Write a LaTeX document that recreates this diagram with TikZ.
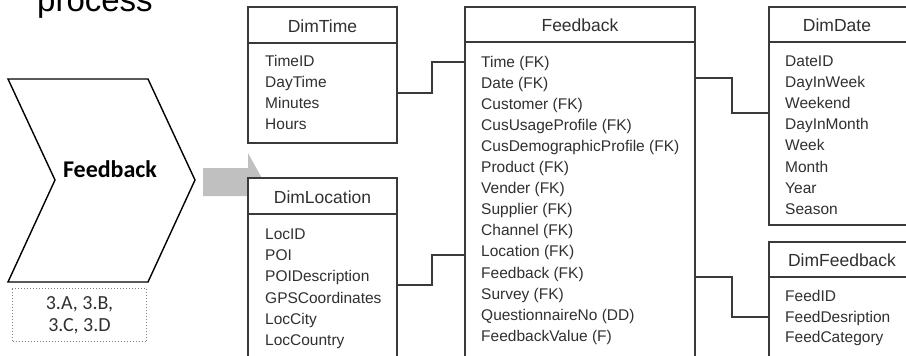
\documentclass[tikz,border=0pt]{standalone}
\usepackage{fontspec}
\setmainfont{Liberation Sans}
\newfontfamily\calibri{Carlito}
\definecolor{lineclr}{HTML}{3A3A3A}
\definecolor{txtclr}{HTML}{303030}
\definecolor{arrowgray}{HTML}{C0C0C0}
\begin{document}
\begin{tikzpicture}[x=1pt,y=-1pt,
  tbl/.style={draw=lineclr, line width=1.3pt, fill=white, rectangle, inner sep=0pt, outer sep=0pt, anchor=north west},
  hdrline/.style={draw=lineclr, line width=1.3pt},
  conn/.style={draw=lineclr, line width=1.2pt},
  ttl/.style={anchor=base, inner sep=0pt, text=txtclr, font=\fontsize{17.5}{20}\selectfont},
  item/.style={anchor=base west, inner sep=0pt, text=txtclr, font=\fontsize{15.5}{18}\selectfont},
]
\useasboundingbox (0,0) rectangle (906,356);

% title fragment (cut off at the top, as in the reference)
\node[anchor=base west, inner sep=0pt, font=\fontsize{33}{36}\selectfont] (proc) at (37,12) {process};

% chevron
\draw[black, line width=1.4pt, line join=miter] (8,79) -- (148,79) -- (195,180) -- (148,282) -- (8,282) -- (55,180) -- cycle;
\node[anchor=base, inner sep=0pt, font=\calibri\bfseries\fontsize{24}{26}\selectfont] (chev) at (110,177.5) {Feedback};

% dotted label box
\node[draw=gray, dotted, line width=1pt, minimum width=134pt, minimum height=53pt, anchor=north west, inner sep=0pt] (refs) at (12,288) {};
\node[align=center, inner sep=0pt, font=\calibri\fontsize{20}{22}\selectfont, text=txtclr] (refstxt) at (refs.center) {3.A, 3.B,\\3.C, 3.D};

% gray arrow
\fill[arrowgray] (203,168) -- (248,168) -- (248,153) -- (264,182) -- (248,211) -- (248,196) -- (203,196) -- cycle;

% tables
\node[tbl, minimum width=149pt, minimum height=136pt] (dimtime) at (248,7) {};
\draw[hdrline] (dimtime.west |- 0,43) -- (dimtime.east |- 0,43);
\node[ttl] (dimtimeT) at (322.5,32) {DimTime};
\foreach \t [count=\i] in {TimeID,DayTime,Minutes,Hours}
  \node[item] (dt\i) at (265,66.5+21*\i-21) {\t};

\node[tbl, minimum width=149pt, minimum height=202pt] (dimloc) at (248,178) {};
\draw[hdrline] (dimloc.west |- 0,214) -- (dimloc.east |- 0,214);
\node[ttl] (dimlocT) at (322.5,203) {DimLocation};
\foreach \t [count=\i] in {LocID,POI,POIDescription,GPSCoordinates,LocCity,LocCountry}
  \node[item] (dl\i) at (265,239.5+21.2*\i-21.2) {\t};

\node[tbl, minimum width=230pt, minimum height=373pt] (feedback) at (465,7) {};
\draw[hdrline] (feedback.west |- 0,42) -- (feedback.east |- 0,42);
\node[ttl] (feedbackT) at (580,31) {Feedback};
\foreach \t [count=\i] in {Time (FK),Date (FK),Customer (FK),CusUsageProfile (FK),CusDemographicProfile (FK),Product (FK),Vender (FK),Supplier (FK),Channel (FK),Location (FK),Feedback (FK),Survey (FK),QuestionnaireNo (DD),FeedbackValue (F)}
  \node[item] (fb\i) at (481,67.5+21.05*\i-21.05) {\t};

\node[tbl, minimum width=146pt, minimum height=218pt] (dimdate) at (769,7) {};
\draw[hdrline] (dimdate.west |- 0,42) -- (dimdate.east |- 0,42);
\node[ttl] (dimdateT) at (837,31) {DimDate};
\foreach \t [count=\i] in {DateID,DayInWeek,Weekend,DayInMonth,Week,Month,Year,Season}
  \node[item] (dd\i) at (785,66.5+21.1*\i-21.1) {\t};

\node[tbl, minimum width=146pt, minimum height=138pt] (dimfb) at (769,242) {};
\draw[hdrline] (dimfb.west |- 0,277) -- (dimfb.east |- 0,277);
\node[ttl] (dimfbT) at (842,266) {DimFeedback};
\foreach \t [count=\i] in {FeedID,FeedDesription,FeedCategory}
  \node[item] (df\i) at (785,301.5+20.5*\i-20.5) {\t};

% connectors
\draw[conn] (dimtime.east |- 0,93) -- ++(35,0) |- (feedback.west |- 0,62);
\draw[conn] (dimloc.east |- 0,285) -- ++(35,0) |- (feedback.west |- 0,255);
\draw[conn] (feedback.east |- 0,78) -- ++(37,0) |- (dimdate.west |- 0,113);
\draw[conn] (feedback.east |- 0,277) -- ++(37,0) |- (dimfb.west |- 0,317);
\end{tikzpicture}
\end{document}
